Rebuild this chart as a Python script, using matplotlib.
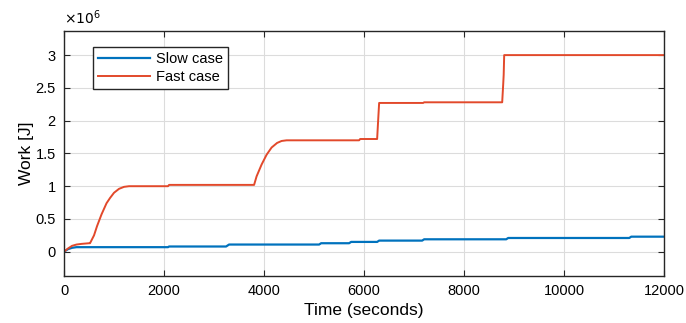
import matplotlib.pyplot as plt
from matplotlib.ticker import FuncFormatter

plt.rcParams['font.family'] = ['Liberation Sans', 'DejaVu Sans']

# time [s] and work [J] (repeated times give the steps)
t_slow = [0, 80, 160, 250, 2080, 2100, 3240, 3300, 5100, 5140, 5700, 5740,
          6260, 6300, 7160, 7200, 8840, 8880, 11300, 11340, 12000]
w_slow = [0, 0.04e6, 0.06e6, 0.07e6, 0.07e6, 0.08e6, 0.08e6, 0.11e6, 0.11e6, 0.13e6,
          0.13e6, 0.15e6, 0.15e6, 0.17e6, 0.17e6, 0.19e6, 0.19e6, 0.21e6, 0.21e6, 0.23e6, 0.23e6]

t_fast = [0, 80, 160, 250, 350, 500, 520, 600, 660, 750, 850, 920, 1000, 1100, 1200, 1300,
          2080, 2100, 3800, 3850, 3950, 4050, 4150, 4260, 4350, 4450, 5900, 5920,
          6260, 6280, 6300, 7180, 7200, 8760, 8780, 8790, 8800, 12000]
w_fast = [0, 0.05e6, 0.09e6, 0.11e6, 0.12e6, 0.13e6, 0.13e6, 0.25e6, 0.39e6, 0.57e6, 0.74e6,
          0.82e6, 0.90e6, 0.96e6, 0.99e6, 1.0e6,
          1.0e6, 1.02e6, 1.02e6, 1.15e6, 1.33e6, 1.48e6, 1.59e6, 1.66e6, 1.69e6, 1.70e6,
          1.70e6, 1.72e6, 1.72e6, 2.0e6, 2.27e6, 2.27e6, 2.28e6, 2.28e6, 2.55e6, 2.7e6, 3.0e6, 3.0e6]

fig = plt.figure(figsize=(6.86, 3.23), dpi=100)
ax = fig.add_axes([0.0933, 0.1455, 0.875, 0.759])

ax.plot(t_slow, w_slow, color='#0072BD', lw=1.6, label='Slow case')
ax.plot(t_fast, w_fast, color='#E2492B', lw=1.4, label='Fast case')

ax.set_xlim(0, 12000)
ax.set_ylim(-0.37e6, 3.37e6)
ax.set_xticks([0, 2000, 4000, 6000, 8000, 10000, 12000])
ax.set_yticks([0, 0.5e6, 1e6, 1.5e6, 2e6, 2.5e6, 3e6])
ax.yaxis.set_major_formatter(FuncFormatter(lambda v, p: f'{v / 1e6:g}'))
ax.text(0, 1.015, r'$\times10^{6}$', transform=ax.transAxes, fontsize=10,
        ha='left', va='bottom')

ax.grid(True, color='#dcdcdc', lw=0.8)
ax.tick_params(direction='in', top=True, right=True, labelsize=10.5, length=4,
               color='#262626', pad=6)
for s in ax.spines.values():
    s.set_color('#262626')
    s.set_linewidth(1.0)

ax.set_xlabel('Time (seconds)', fontsize=12.5, labelpad=3)
ax.set_ylabel('Work [J]', fontsize=12.5, labelpad=1)

leg = ax.legend(loc='upper left', bbox_to_anchor=(0.048, 0.935), fontsize=10.5, fancybox=False,
                framealpha=1, edgecolor='#262626', handlelength=3.6, borderpad=0.35,
                labelspacing=0.3, handletextpad=0.4, borderaxespad=0)
leg.get_frame().set_linewidth(1.0)

plt.savefig('out.png', dpi=100)
